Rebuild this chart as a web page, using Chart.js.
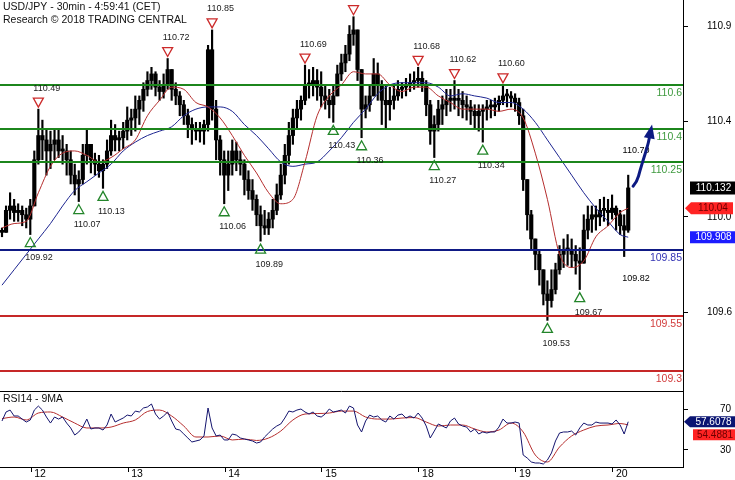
<!DOCTYPE html>
<html>
<head>
<meta charset="utf-8">
<script src="https://cdn.jsdelivr.net/npm/chart.js@4.4.1/dist/chart.umd.min.js"></script>
<style>
  html, body { margin: 0; padding: 0; background: #fff; }
  #wrap { position: relative; width: 735px; height: 480px; overflow: hidden; background: #fff; }
  #main { position: absolute; left: 0; top: 0; }
  #rsi { position: absolute; left: 0; top: 391px; }
</style>
</head>
<body>
<div id="wrap">
  <canvas id="main" width="735" height="392"></canvas>
  <canvas id="rsi" width="735" height="89"></canvas>
</div>
<script>
// USD/JPY 30min - price bars, two moving averages, RSI14 with its 9MA.
// x values are bar slots (one slot ~ 4px on screen), day ticks sit on slot numbers.

const titleLines = ['USD/JPY - 30min - 4:59:41 (CET)', 'Research \u00A9 2018 TRADING CENTRAL'];

const highs = [
  109.95,110.05,110.11,110.08,110.06,110.05,110.04,110.08,110.30,110.49,
  110.44,110.40,110.39,110.40,110.40,110.37,110.33,110.30,110.24,110.21,
  110.33,110.40,110.30,110.29,110.28,110.26,110.35,110.44,110.42,110.39,
  110.43,110.50,110.49,110.55,110.55,110.61,110.66,110.68,110.66,110.62,
  110.65,110.72,110.67,110.61,110.57,110.53,110.49,110.45,110.43,110.43,
  110.44,110.78,110.85,110.53,110.37,110.30,110.30,110.35,110.34,110.30,
  110.26,110.21,110.17,110.10,110.05,110.03,110.02,110.08,110.15,110.24,
  110.33,110.43,110.49,110.53,110.55,110.69,110.67,110.68,110.67,110.66,
  110.60,110.58,110.60,110.69,110.74,110.78,110.87,110.91,110.85,110.67,
  110.55,110.60,110.72,110.70,110.62,110.60,110.59,110.60,110.62,110.61,
  110.63,110.65,110.66,110.68,110.66,110.62,110.53,110.46,110.53,110.55,
  110.58,110.58,110.62,110.58,110.57,110.55,110.53,110.51,110.51,110.51,
  110.53,110.53,110.54,110.55,110.60,110.58,110.57,110.56,110.54,110.49,
  110.17,110.03,109.90,109.85,109.76,109.71,109.76,109.79,109.87,109.90,
  109.92,109.90,109.87,109.86,110.01,110.05,110.05,110.05,110.08,110.09,
  110.08,110.10,110.05,110.03,110.01,110.19
];
const lows = [
  109.91,109.93,109.99,109.98,109.98,109.96,109.95,109.92,110.05,110.24,
  110.26,110.19,110.22,110.26,110.27,110.24,110.19,110.15,110.10,110.07,
  110.15,110.24,110.20,110.19,110.18,110.13,110.22,110.28,110.30,110.30,
  110.31,110.35,110.37,110.39,110.42,110.48,110.55,110.58,110.55,110.53,
  110.54,110.58,110.53,110.51,110.46,110.42,110.36,110.33,110.35,110.34,
  110.33,110.39,110.44,110.26,110.19,110.06,110.12,110.19,110.21,110.19,
  110.10,110.08,110.03,109.96,109.89,109.92,109.92,109.95,110.01,110.08,
  110.15,110.24,110.33,110.40,110.44,110.51,110.54,110.55,110.53,110.50,
  110.49,110.45,110.43,110.55,110.62,110.66,110.71,110.78,110.62,110.36,
  110.45,110.48,110.55,110.53,110.42,110.40,110.44,110.49,110.53,110.54,
  110.55,110.57,110.58,110.59,110.57,110.46,110.33,110.27,110.39,110.42,
  110.46,110.48,110.49,110.46,110.45,110.44,110.42,110.40,110.39,110.34,
  110.44,110.45,110.46,110.48,110.51,110.50,110.50,110.48,110.42,110.12,
  109.94,109.85,109.76,109.69,109.60,109.53,109.59,109.65,109.74,109.77,
  109.78,109.77,109.74,109.67,109.79,109.90,109.93,109.94,109.96,109.98,
  109.96,109.99,109.94,109.92,109.82,109.93
];
const closes = [
  109.93,110.03,110.05,110.02,110.03,110.01,109.99,110.05,110.26,110.37,
  110.35,110.30,110.33,110.35,110.30,110.30,110.26,110.19,110.15,110.17,
  110.28,110.33,110.26,110.24,110.21,110.24,110.30,110.37,110.35,110.36,
  110.39,110.44,110.45,110.49,110.53,110.58,110.62,110.65,110.59,110.57,
  110.60,110.67,110.58,110.55,110.51,110.46,110.42,110.40,110.39,110.39,
  110.42,110.76,110.49,110.35,110.26,110.19,110.24,110.30,110.26,110.24,
  110.17,110.12,110.08,110.01,109.96,109.95,109.99,110.03,110.10,110.19,
  110.28,110.37,110.45,110.49,110.53,110.60,110.60,110.62,110.59,110.55,
  110.53,110.51,110.55,110.65,110.70,110.74,110.83,110.85,110.67,110.49,
  110.51,110.55,110.65,110.60,110.53,110.51,110.53,110.55,110.58,110.59,
  110.60,110.61,110.62,110.63,110.60,110.51,110.39,110.42,110.49,110.51,
  110.53,110.54,110.53,110.53,110.51,110.50,110.48,110.46,110.48,110.49,
  110.50,110.50,110.51,110.53,110.55,110.55,110.54,110.52,110.46,110.17,
  110.01,109.90,109.83,109.76,109.65,109.62,109.67,109.76,109.83,109.85,
  109.85,109.83,109.80,109.79,109.94,109.99,110.01,110.00,110.03,110.03,
  110.02,110.04,110.01,109.96,109.94,110.132
];

// moving averages and the RSI 9MA are read every third slot
const maIdx = [0,3,6,9,12,15,18,21,24,27,30,33,36,39,42,45,48,51,54,57,60,63,66,69,72,75,
  78,81,84,87,90,93,96,99,102,105,108,111,114,117,120,123,126,129,132,135,138,141,144,147,150,153,155];
const maFast = [
  109.95,109.97,109.98,110.11,110.23,110.29,110.30,110.28,110.25,110.27,
  110.31,110.35,110.46,110.53,110.59,110.58,110.52,110.50,110.45,110.37,
  110.28,110.20,110.11,110.06,110.08,110.25,110.46,110.55,110.60,110.66,
  110.65,110.65,110.60,110.57,110.59,110.59,110.55,110.52,110.49,110.49,
  110.49,110.48,110.49,110.45,110.29,110.08,109.83,109.77,109.80,109.91,
  109.96,110.02,110.04
];
const maSlow = [
  109.69,109.76,109.83,109.90,109.97,110.05,110.12,110.16,110.20,110.24,
  110.30,110.34,110.37,110.39,110.41,110.46,110.49,110.50,110.50,110.48,
  110.42,110.37,110.31,110.25,110.23,110.24,110.25,110.30,110.36,110.43,
  110.49,110.56,110.60,110.61,110.61,110.61,110.59,110.55,110.56,110.55,
  110.54,110.52,110.52,110.49,110.43,110.35,110.27,110.19,110.11,110.04,
  109.98,109.92,109.908
];

const rsi = [
  58.3,67.1,69.0,63.2,63.2,60.2,57.3,59.3,69.0,72.9,
  69.0,62.2,56.3,62.2,60.2,62.2,56.3,51.5,44.6,47.6,
  52.4,60.2,50.5,51.5,51.5,49.5,54.4,65.1,57.3,59.3,
  61.2,64.1,63.2,68.0,67.1,71.0,72.0,74.9,65.1,60.2,
  63.2,67.1,58.3,50.5,49.5,45.6,41.7,37.8,38.8,39.8,
  43.7,71.0,51.5,43.7,44.6,39.8,39.8,45.6,44.6,41.7,
  40.7,39.8,38.8,36.8,37.8,42.7,46.6,50.5,53.4,55.4,
  61.2,68.0,67.1,69.0,70.0,67.1,65.1,67.1,63.2,62.2,
  65.1,70.0,67.1,68.0,69.0,66.1,72.9,71.0,54.4,47.6,
  58.3,64.1,62.2,63.2,59.3,57.3,63.2,60.2,64.1,65.1,
  61.2,63.2,61.2,66.1,61.2,53.4,41.7,48.5,55.4,53.4,
  51.5,58.3,61.2,55.4,53.4,52.4,47.6,50.5,45.6,47.6,
  46.6,47.6,47.6,52.4,60.2,56.3,56.3,57.3,56.3,25.1,
  22.2,18.3,17.3,17.3,16.3,20.2,27.1,38.8,46.6,47.6,
  47.6,48.5,44.6,51.5,56.3,54.4,54.4,57.3,56.3,56.3,
  56.3,55.4,59.3,54.4,45.6,57.6078
];
const rsiMa = [
  60.7,62.2,59.3,66.1,67.1,62.2,56.3,51.5,51.5,52.4,
  56.3,59.3,67.6,69.0,63.2,53.4,42.7,42.7,43.7,39.8,
  40.7,39.3,41.7,48.5,59.3,65.1,65.6,66.1,68.0,68.0,
  62.2,60.2,60.2,61.2,61.7,57.3,53.4,54.4,54.4,50.5,
  47.6,49.5,56.3,47.6,25.1,18.3,32.9,43.7,49.5,53.4,
  54.4,55.9,54.4881
];

// support / resistance levels
const greenLevels = [110.6, 110.4, 110.25];
const blueLevels = [109.85];
const redLevels = [109.55, 109.3];

// swing highs / lows marked with triangles
const highIdx = [9, 41, 52, 75, 87, 103, 112, 124];
const highVals = [110.49, 110.72, 110.85, 110.69, 110.91, 110.68, 110.62, 110.60];
const lowIdx = [7, 19, 25, 55, 64, 82, 89, 107, 119, 135, 143];
const lowVals = [109.92, 110.07, 110.13, 110.06, 109.89, 110.43, 110.36, 110.27, 110.34, 109.53, 109.67];
const targetNotes = ['110.70', '109.82'];

// projected path
const arrowX = [156.2, 157.2, 157.9, 158.9, 159.9, 160.9];
const arrowY = [110.14, 110.16, 110.21, 110.27, 110.33, 110.42];

// axes
const priceTicks = [110.867, 110.433, 110.0, 109.567];
const rsiTicks = [70, 30];
const dayTicks = [7.2, 31.2, 55.2, 79.2, 103.2, 127.2, 151.2];
const dayLabels = ['12', '13', '14', '15', '18', '19', '20'];

const FONT = '"Liberation Sans", Arial, sans-serif';
const X_MIN = -0.495, X_MAX = 168.56;

function tag(ctx, left, right, cy, h, bg, fg, text, arrow) {
  ctx.beginPath();
  if (arrow) {
    ctx.moveTo(left, cy);
    ctx.lineTo(left + 6, cy - h / 2);
    ctx.lineTo(right, cy - h / 2);
    ctx.lineTo(right, cy + h / 2);
    ctx.lineTo(left + 6, cy + h / 2);
    ctx.closePath();
  } else {
    ctx.rect(left, cy - h / 2, right - left, h);
  }
  ctx.fillStyle = bg;
  ctx.fill();
  ctx.fillStyle = fg;
  ctx.font = '10px ' + FONT;
  ctx.textAlign = 'center';
  ctx.textBaseline = 'middle';
  ctx.fillText(text, (left + (arrow ? 6 : 0) + right) / 2 + 1, cy + 0.5);
}

function tri(ctx, cx, tip, dir, color) {
  // dir -1: pointing down (sits above a high), +1: pointing up (under a low)
  const base = tip + dir * 9;
  ctx.beginPath();
  ctx.moveTo(cx - 5, base);
  ctx.lineTo(cx + 5, base);
  ctx.lineTo(cx, tip);
  ctx.closePath();
  ctx.strokeStyle = color;
  ctx.lineWidth = 1.3;
  ctx.stroke();
}

const overlay = {
  id: 'overlay',
  afterDatasetsDraw(chart) {
    const { ctx, chartArea: a, scales: { x, y } } = chart;
    ctx.save();

    const level = (vals, line, text) => vals.forEach(v => {
      const py = Math.round(y.getPixelForValue(v));
      ctx.strokeStyle = line;
      ctx.lineWidth = 2;
      ctx.beginPath();
      ctx.moveTo(a.left, py);
      ctx.lineTo(a.right, py);
      ctx.stroke();
      ctx.fillStyle = text;
      ctx.font = '10.5px ' + FONT;
      ctx.textAlign = 'right';
      ctx.textBaseline = 'middle';
      ctx.fillText(String(v), a.right - 1, py + 8);
    });
    level(greenLevels, '#1c861c', '#3f9a3f');
    level(blueLevels, '#0f1a85', '#3434b4');
    level(redLevels, '#c62828', '#d23c3c');

    ctx.font = '9px ' + FONT;
    ctx.textAlign = 'left';
    ctx.textBaseline = 'middle';
    highIdx.forEach((k, i) => {
      const cx = x.getPixelForValue(k);
      const tip = y.getPixelForValue(highVals[i]) - 2;
      tri(ctx, cx, tip, -1, '#cc2a2a');
      ctx.fillStyle = '#1a1a1a';
      ctx.fillText(highVals[i].toFixed(2), cx - 5, tip - 19);
    });
    lowIdx.forEach((k, i) => {
      const cx = x.getPixelForValue(k);
      const tip = y.getPixelForValue(lowVals[i]) + 3;
      tri(ctx, cx, tip, 1, '#23852a');
      ctx.fillStyle = '#1a1a1a';
      ctx.fillText(lowVals[i].toFixed(2), cx - 5, tip + 20);
    });

    // target notes next to the projection
    ctx.fillStyle = '#000';
    ctx.fillText(targetNotes[0], x.getPixelForValue(153.6), y.getPixelForValue(110.30));
    ctx.fillText(targetNotes[1], x.getPixelForValue(153.5), y.getPixelForValue(109.72));

    // projection arrow
    const pts = arrowX.map((k, i) => ({ x: x.getPixelForValue(k), y: y.getPixelForValue(arrowY[i]) }));
    const tipP = pts[pts.length - 1], prev = pts[pts.length - 2];
    let dx = tipP.x - prev.x, dy = tipP.y - prev.y;
    const len = Math.hypot(dx, dy); dx /= len; dy /= len;
    const base = { x: tipP.x - dx * 14, y: tipP.y - dy * 14 };
    const shaft = pts.slice(0, -1).concat([base]);
    ctx.strokeStyle = '#0c1a82';
    ctx.lineWidth = 3;
    ctx.lineCap = 'round';
    ctx.beginPath();
    ctx.moveTo(shaft[0].x, shaft[0].y);
    for (let i = 1; i < shaft.length - 1; i++) {
      const mx = (shaft[i].x + shaft[i + 1].x) / 2, my = (shaft[i].y + shaft[i + 1].y) / 2;
      ctx.quadraticCurveTo(shaft[i].x, shaft[i].y, mx, my);
    }
    ctx.lineTo(base.x, base.y);
    ctx.stroke();
    ctx.fillStyle = '#0c1a82';
    ctx.beginPath();
    ctx.moveTo(tipP.x, tipP.y);
    ctx.lineTo(base.x - dy * 5.5, base.y + dx * 5.5);
    ctx.lineTo(base.x + dy * 5.5, base.y - dx * 5.5);
    ctx.closePath();
    ctx.fill();

    ctx.restore();
  },
  afterDraw(chart) {
    const { ctx, scales: { y } } = chart;
    ctx.save();
    ctx.font = '10.5px ' + FONT;
    ctx.fillStyle = '#111';
    ctx.textAlign = 'left';
    ctx.textBaseline = 'middle';
    ctx.fillText(titleLines[0], 3, 7);
    ctx.fillText(titleLines[1], 3, 20);

    const last = closes[closes.length - 1];
    const fast = maFast[maFast.length - 1];
    const slow = maSlow[maSlow.length - 1];
    tag(ctx, 690, 735, y.getPixelForValue(last), 13, '#000', '#fff', last.toFixed(3), false);
    tag(ctx, 685, 733, y.getPixelForValue(fast), 12, '#ff2323', '#6e0000', fast.toFixed(2), true);
    tag(ctx, 690, 735, y.getPixelForValue(slow), 12, '#1c1cff', '#fff', slow.toFixed(3), false);
    ctx.restore();
  }
};

const rsiOverlay = {
  id: 'rsiOverlay',
  afterDraw(chart) {
    const { ctx, chartArea: a, scales: { y } } = chart;
    ctx.save();
    ctx.strokeStyle = '#000';
    ctx.lineWidth = 1;
    ctx.beginPath();
    ctx.moveTo(a.left, a.top + 0.5);
    ctx.lineTo(a.right, a.top + 0.5);
    ctx.stroke();

    ctx.font = '10.5px ' + FONT;
    ctx.fillStyle = '#111';
    ctx.textAlign = 'left';
    ctx.textBaseline = 'middle';
    ctx.fillText('RSI14 - 9MA', 3, 8);

    const r = rsi[rsi.length - 1], m = rsiMa[rsiMa.length - 1];
    const ry = y.getPixelForValue(r);
    const my = Math.max(y.getPixelForValue(m), ry + 13);
    tag(ctx, 684, 735, ry, 11, '#0a1472', '#fff', r.toFixed(4), true);
    tag(ctx, 693, 735, my, 11, '#ff2323', '#6e0000', m.toFixed(4), false);
    ctx.restore();
  }
};

Chart.defaults.font.family = FONT;

new Chart(document.getElementById('main'), {
  type: 'bar',
  data: {
    datasets: [
      {
        label: 'range',
        data: highs.map((h, i) => ({ x: i, y: [lows[i], h] })),
        backgroundColor: '#000',
        barThickness: 1.5,
        grouped: false,
        order: 4
      },
      {
        label: 'body',
        data: closes.map((c, i) => ({ x: i, y: [i ? closes[i - 1] : c, c] })),
        backgroundColor: '#000',
        barThickness: 3.5,
        minBarLength: 2,
        grouped: false,
        order: 3
      },
      {
        type: 'line',
        label: 'MA slow',
        data: maIdx.map((k, i) => ({ x: k, y: maSlow[i] })),
        borderColor: '#1d2590',
        borderWidth: 1,
        pointRadius: 0,
        cubicInterpolationMode: 'monotone',
        order: 2
      },
      {
        type: 'line',
        label: 'MA fast',
        data: maIdx.map((k, i) => ({ x: k, y: maFast[i] })),
        borderColor: '#b52e2e',
        borderWidth: 1,
        pointRadius: 0,
        cubicInterpolationMode: 'monotone',
        order: 1
      }
    ]
  },
  options: {
    responsive: false,
    animation: false,
    devicePixelRatio: 1,
    layout: { padding: { top: 0, bottom: 1, left: 0, right: 0 } },
    plugins: { legend: { display: false }, tooltip: { enabled: false } },
    scales: {
      x: { type: 'linear', min: X_MIN, max: X_MAX, display: false, offset: false },
      y: {
        position: 'right',
        min: 109.209,
        max: 110.986,
        afterBuildTicks: s => { s.ticks = priceTicks.map(v => ({ value: v })); },
        afterFit: s => { s.width = 52; s.paddingTop = 0; s.paddingBottom = 0; },
        ticks: { callback: v => v.toFixed(1), color: '#000', font: { size: 10 }, padding: 19 },
        grid: { drawOnChartArea: false, tickLength: 5, color: '#000' },
        border: { display: true, color: '#000' }
      }
    }
  },
  plugins: [overlay]
});

new Chart(document.getElementById('rsi'), {
  type: 'line',
  data: {
    datasets: [
      {
        label: 'RSI14',
        data: rsi.map((v, i) => ({ x: i, y: v })),
        borderColor: '#14146e',
        borderWidth: 1,
        pointRadius: 0,
        order: 1
      },
      {
        label: '9MA',
        data: maIdx.map((k, i) => ({ x: k, y: rsiMa[i] })),
        borderColor: '#b52e2e',
        borderWidth: 1,
        pointRadius: 0,
        cubicInterpolationMode: 'monotone',
        order: 2
      }
    ]
  },
  options: {
    responsive: false,
    animation: false,
    devicePixelRatio: 1,
    layout: { padding: 0 },
    plugins: { legend: { display: false }, tooltip: { enabled: false } },
    scales: {
      x: {
        type: 'linear',
        min: X_MIN,
        max: X_MAX,
        afterBuildTicks: s => { s.ticks = dayTicks.map(v => ({ value: v })); },
        afterFit: s => { s.height = 13; s.paddingLeft = 0; s.paddingRight = 0; },
        ticks: {
          callback: (v, i) => dayLabels[i],
          color: '#000',
          font: { size: 10.5 },
          labelOffset: 9,
          padding: -4,
          autoSkip: false,
          maxRotation: 0
        },
        grid: { drawOnChartArea: false, tickLength: 5, color: '#000' },
        border: { display: true, color: '#000' }
      },
      y: {
        position: 'right',
        min: 13.4,
        max: 87.6,
        afterBuildTicks: s => { s.ticks = rsiTicks.map(v => ({ value: v })); },
        afterFit: s => { s.width = 52; s.paddingTop = 0; s.paddingBottom = 0; },
        ticks: { color: '#000', font: { size: 10 }, padding: 32 },
        grid: { drawOnChartArea: false, tickLength: 5, color: '#000' },
        border: { display: true, color: '#000' }
      }
    }
  },
  plugins: [rsiOverlay]
});
</script>
</body>
</html>
